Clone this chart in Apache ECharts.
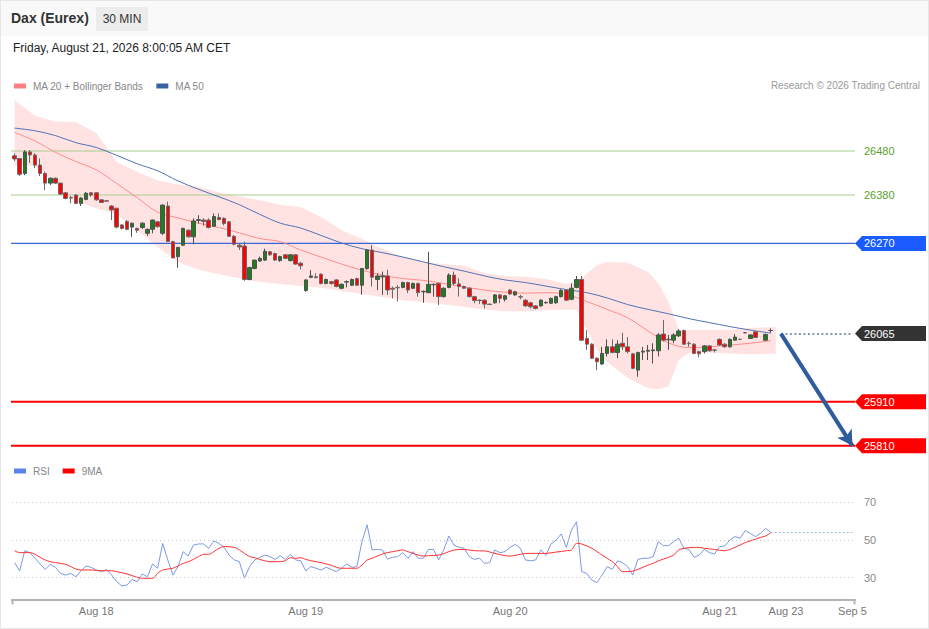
<!DOCTYPE html>
<html><head><meta charset="utf-8">
<script src="https://cdn.jsdelivr.net/npm/echarts@6/dist/echarts.min.js"></script>
<style>
html,body{margin:0;padding:0;background:#fff;}
#wrap{position:relative;width:929px;height:629px;overflow:hidden;font-family:'Liberation Sans',Arial,sans-serif;}
#hdr{position:absolute;left:0;top:0;width:929px;height:36px;background:#f9f9f9;}
#chart{position:absolute;left:0;top:0;width:929px;height:629px;}
.t{position:absolute;white-space:nowrap;}
#frame{position:absolute;left:0;top:0;width:929px;height:629px;box-sizing:border-box;border:1px solid #e6e6e6;pointer-events:none;}
</style></head>
<body><div id="wrap">
<div id="hdr"></div>
<div id="chart"></div>
<div class="t" style="left:11px;top:9px;font-size:14px;font-weight:bold;color:#333;line-height:18px;">Dax (Eurex)</div>
<div class="t" style="left:96px;top:7px;width:52px;height:24px;background:#ececec;font-size:12px;color:#333;line-height:24px;text-align:center;">30 MIN</div>
<div class="t" style="left:13px;top:41px;font-size:12px;color:#222;line-height:14px;">Friday, August 21, 2026 8:00:05 AM CET</div>
<div class="t" style="right:9px;top:80px;font-size:10px;color:#999;line-height:12px;">Research © 2026 Trading Central</div>
<div id="frame"></div>
</div>
<script>
// ---------- DATA ----------
const opens = [26469,26463,26429,26478,26471,26448,26429,26407,26418,26407,
 26385,26374,26380,26361,26370,26385,26385,26369,26367,26355,
 26350,26312,26320,26307,26304,26306,26293,26302,26319,26293,
 26355,26274,26240,26266,26300,26285,26322,26323,26323,26309,
 26329,26327,26319,26286,26266,26264,26188,26213,26230,26232,
 26251,26247,26231,26244,26231,26244,26225,26163,26193,26194,
 26200,26179,26183,26187,26168,26182,26175,26190,26175,26213,
 26255,26188,26194,26196,26168,26170,26170,26181,26168,26179,
 26160,26158,26176,26179,26149,26170,26198,26178,26172,26168,
 26149,26141,26141,26132,26135,26153,26143,26164,26153,26149,
 26141,26135,26128,26128,26135,26134,26135,26149,26164,26143,
 26170,26188,26054,26041,26009,25996,26020,26035,26022,26043,
 26035,26019,25982,26023,26025,26026,26026,26064,26051,26050,
 26060,26072,26043,26041,26024,26024,26037,26028,26052,26041,
 26035,26050,26052,26067,26054,26069,null,26050,26072];
const closes = [26462,26427,26478,26471,26448,26429,26407,26418,26407,26382,
 26372,26373,26361,26373,26384,26380,26369,26363,26366,26346,
 26307,26304,26302,26316,26300,26316,26302,26323,26308,26357,
 26274,26237,26261,26304,26285,26321,26324,26320,26306,26331,
 26324,26315,26286,26268,26262,26188,26215,26232,26236,26252,
 26244,26232,26240,26236,26244,26223,26219,26187,26196,26192,
 26179,26188,26179,26172,26177,26183,26188,26175,26213,26255,
 26193,26196,26196,26164,26166,26169,26181,26164,26179,26158,
 26161,26177,26177,26149,26168,26198,26179,26172,26168,26149,
 26140,26140,26132,26131,26153,26145,26151,26155,26160,26148,
 26128,26126,26122,26141,26136,26145,26149,26163,26141,26168,
 26188,26050,26041,26009,26001,26020,26035,26022,26041,26035,
 26024,25986,26022,26025,26027,26028,26062,26050,26052,26062,
 26071,26041,26042,26020,26019,26037,26026,26027,26039,26035,
 26052,26057,26052,26067,26062,26056,null,26063,26072];
const highs = [26475,26464,26482,26482,26475,26463,26433,26420,26420,26408,
 26387,26378,26382,26375,26387,26387,26387,26370,26368,26357,
 26350,26314,26323,26317,26306,26318,26304,26324,26321,26359,
 26365,26276,26262,26306,26302,26327,26334,26327,26327,26338,
 26338,26329,26321,26289,26270,26274,26217,26233,26240,26258,
 26253,26249,26242,26246,26246,26246,26228,26188,26209,26202,
 26202,26190,26185,26189,26179,26186,26190,26192,26214,26257,
 26266,26202,26206,26210,26172,26175,26183,26183,26181,26181,
 26163,26251,26179,26181,26170,26202,26206,26191,26174,26170,
 26151,26143,26143,26133,26155,26155,26153,26166,26162,26153,
 26143,26137,26130,26143,26138,26147,26151,26166,26166,26179,
 26196,26196,26073,26043,26011,26035,26052,26052,26050,26067,
 26057,26021,26024,26035,26039,26043,26066,26096,26062,26066,
 26075,26074,26047,26043,26026,26039,26039,26030,26054,26043,
 26054,26064,26053,26068,26064,26070,null,26065,26077];
const lows = [26457,26423,26425,26453,26441,26423,26391,26403,26405,26380,
 26370,26361,26359,26355,26368,26376,26367,26362,26365,26323,
 26304,26302,26300,26285,26294,26303,26287,26293,26306,26289,
 26274,26236,26215,26264,26283,26268,26315,26310,26304,26308,
 26323,26311,26285,26266,26255,26185,26186,26211,26228,26230,
 26242,26230,26228,26234,26229,26221,26211,26160,26191,26191,
 26177,26177,26176,26170,26166,26170,26173,26173,26153,26210,
 26172,26164,26153,26153,26145,26138,26168,26157,26166,26149,
 26135,26157,26149,26130,26147,26168,26175,26149,26167,26147,
 26134,26132,26122,26130,26133,26134,26138,26153,26151,26143,
 26126,26122,26120,26126,26133,26132,26133,26147,26139,26141,
 26168,26048,26028,26007,25982,25994,26013,26020,26009,26028,
 26020,25984,25967,26005,26005,25997,26013,26047,26028,26043,
 26057,26039,26035,26018,26011,26020,26024,26022,26037,26033,
 26033,26050,26051,26066,26053,26055,null,26049,26067];

// moving averages (sampled every 4th candle)
const maIdx = [0,4,8,12,16,20,24,28,32,36,40,44,48,52,56,60,64,68,72,76,80,84,88,92,96,100,104,108,112,116,120,124,128,132,136,140,144,148];
const ma20 = [26522,26503,26477,26456,26437,26406,26374,26341,26328,26316,26306,26294,26281,26274,26255,26239,26223,26209,26198,26190,26186,26179,26171,26164,26159,26157,26158,26154,26138,26120,26101,26071,26044,26033,26035,26039,26043,26049];
const ma50 = [26532,26526,26515,26499,26488,26470,26451,26435,26412,26393,26376,26358,26336,26316,26305,26288,26271,26258,26249,26239,26228,26217,26207,26196,26187,26181,26173,26165,26158,26146,26131,26120,26110,26099,26090,26081,26073,26066];

// Bollinger bands
const bbIdx = [0,4,8,12,16,20,24,28,32,36,40,44,48,52,56,60,64,68,72,76,80,84,88,92,96,100,104,108,110,112,114,116,120,124,126,128,130,132,136,140,144,149];
const bbUpper = [26596,26560,26547,26546,26521,26455,26433,26413,26404,26399,26386,26377,26368,26358,26353,26330,26300,26280,26258,26239,26228,26223,26219,26203,26196,26194,26189,26178,26182,26201,26221,26228,26226,26205,26180,26137,26073,26073,26073,26074,26078,26080];
const bbLower = [26447,26446,26406,26366,26350,26335,26300,26262,26228,26210,26200,26191,26182,26178,26173,26169,26162,26155,26148,26141,26137,26131,26126,26120,26116,26115,26118,26120,26119,26073,26028,26001,25964,25941,25939,25944,26005,26021,26022,26020,26018,26019];

// RSI
const rsi = [38.0,33.6,44.3,43.3,40.3,37.3,34.4,37.1,35.5,32.3,
 31.4,32.3,30.5,33.6,36.2,35.5,34.1,33.2,34.4,31.4,
 27.9,25.6,26.1,29.1,27.9,32.0,30.5,37.3,35.0,48.2,
 39.4,31.4,35.9,43.8,41.5,47.3,47.9,47.9,45.6,49.5,
 48.2,46.1,42.0,39.4,38.5,29.7,35.9,39.4,40.8,42.0,
 41.2,39.7,41.7,39.7,42.4,39.4,39.0,33.6,35.9,35.0,
 34.1,35.5,34.4,33.2,35.0,37.3,35.5,35.9,49.1,58.0,
 44.7,45.0,44.7,39.9,40.8,41.2,43.3,40.3,43.8,40.3,
 40.3,45.0,45.0,39.4,44.7,52.1,47.3,46.1,45.6,41.2,
 39.7,40.3,37.6,38.0,44.7,43.3,43.8,46.1,47.7,45.6,
 39.4,39.0,39.4,44.7,42.0,47.9,50.0,53.2,46.1,55.3,
 59.7,33.2,32.3,28.8,27.4,31.4,35.9,34.4,38.9,38.0,
 35.9,31.4,39.7,40.3,40.3,41.2,49.1,47.0,47.0,49.1,
 50.9,45.6,45.0,40.8,42.0,45.0,43.3,42.6,46.5,46.8,
 50.0,51.8,50.9,55.0,53.5,51.8,53.5,56.2,54.1];
const rsiMaIdx = [0,1,3,4,5,6,7,8,10,11,12,13,15,17,19,20,22,24,25,27,28,29,31,32,33,34,35,36,37,38,39,40,41,43,44,45,46,47,48,50,52,53,54,55,56,57,58,60,61,62,63,64,66,67,68,69,70,71,72,73,74,75,76,77,78,79,80,81,83,85,86,88,90,92,94,96,97,99,100,102,104,106,108,109,110,111,113,115,117,118,119,121,122,124,125,126,127,128,129,130,131,133,134,135,137,139,140,141,142,143,144,145,146,147,148];
const rsiMa = [44.3,43.3,43.3,42.4,40.8,39.4,38.5,38.0,37.1,35.9,34.6,34.1,34.1,33.7,33.7,33.2,32.0,30.2,29.7,29.7,32.3,34.1,35.0,36.2,37.6,38.5,39.7,41.2,42.4,42.4,43.8,45.6,46.5,46.1,44.7,42.9,41.2,40.6,39.7,38.5,38.5,39.0,40.6,40.3,40.6,39.7,39.0,38.0,37.3,36.6,35.5,35.0,35.0,35.0,36.7,39.4,40.3,41.5,42.6,43.3,43.8,44.3,44.7,43.8,42.9,42.0,41.5,41.7,42.0,43.8,44.7,45.0,44.3,44.2,42.9,41.7,41.5,42.4,42.9,42.9,42.9,43.6,44.3,44.7,48.2,47.9,45.6,42.0,38.5,35.9,33.2,33.5,34.4,36.7,37.6,38.9,39.9,40.8,42.0,44.7,45.6,46.1,46.1,45.6,45.0,44.3,45.0,46.1,47.3,48.6,49.5,50.4,51.4,52.1,53.9];
const rsiLevels = [70, 50, 30];

// price levels
const resistanceLevels = [26480, 26380];
const pivotLevel = 26270;
const lastPrice = 26065;
const supportLevels = [25910, 25810];
const targetLevel = 25810;

// x axis
const slotCount = 165;
const tickIdx = [16, 57, 97, 138, 151, 164];
const tickText = ['Aug 18', 'Aug 19', 'Aug 20', 'Aug 21', 'Aug 23', 'Sep 5'];
const lastIdx = 148, projStartIdx = 150, projEndIdx = 164;

// ---------- CHART ----------
const FONT = "'Liberation Sans', Arial, sans-serif";
const cats = Array.from({length: slotCount}, (_, i) => String(i));
const tickMap = {};
tickIdx.forEach((k, i) => { tickMap[String(k)] = tickText[i]; });
const candleData = opens.map((o, i) => o == null ? ['-', '-', '-', '-'] : [o, closes[i], lows[i], highs[i]]);
const pairs = (idx, vals) => idx.map((k, i) => [k, vals[i]]);

const chart = echarts.init(document.getElementById('chart'), null, {renderer: 'svg'});
const GL = 12, GR = 74;
const option = {
  animation: false,
  textStyle: {fontFamily: FONT},
  legend: [
    {left: 14, top: 81, padding: 0, icon: 'rect', itemWidth: 12, itemHeight: 5, itemGap: 13, selectedMode: false,
     textStyle: {color: '#888', fontSize: 10, padding: [0, 0, 0, 2]},
     data: [{name: 'MA 20 + Bollinger Bands', itemStyle: {color: '#ff8080'}}, {name: 'MA 50', itemStyle: {color: '#3a62a0'}}]},
    {left: 14, top: 466, padding: 0, icon: 'rect', itemWidth: 12, itemHeight: 5, itemGap: 13, selectedMode: false,
     textStyle: {color: '#888', fontSize: 10, padding: [0, 0, 0, 2]},
     data: [{name: 'RSI', itemStyle: {color: '#5b82e8'}}, {name: '9MA', itemStyle: {color: '#ff0000'}}]}
  ],
  grid: [
    {left: GL, right: GR, top: 98.2, height: 356.4},
    {left: GL, right: GR, top: 483.45, height: 115.93}
  ],
  xAxis: [
    {type: 'category', gridIndex: 0, data: cats, boundaryGap: true, show: false},
    {type: 'category', gridIndex: 1, data: cats, boundaryGap: true,
     axisLine: {lineStyle: {color: '#b3b3b3', width: 2}}, axisTick: {show: false}, splitLine: {show: false},
     axisLabel: {interval: (i) => tickMap[String(i)] !== undefined, formatter: (v) => tickMap[v] || '',
                 color: '#777', fontSize: 11, margin: 6}}
  ],
  yAxis: [
    {type: 'value', gridIndex: 0, min: 25790, max: 26600, show: false, splitLine: {show: false}},
    {type: 'value', gridIndex: 1, min: 18.5, max: 80, show: false, splitLine: {show: false}}
  ],
  series: [
    {type: 'custom', name: 'band', xAxisIndex: 0, yAxisIndex: 0, z: 1, silent: true,
     data: bbIdx.map((k, i) => [k, bbUpper[i], bbLower[i]]),
     encode: {x: 0, y: [1, 2]},
     renderItem: (params, api) => {
       if (params.dataIndex !== 0) return;
       const up = bbIdx.map((k, i) => api.coord([k, bbUpper[i]]));
       const lo = bbIdx.map((k, i) => api.coord([k, bbLower[i]])).reverse();
       return {type: 'polygon', shape: {points: up.concat(lo)}, style: {fill: '#ffe3e3'}};
     }},
    {type: 'line', name: 'MA 20 + Bollinger Bands', xAxisIndex: 0, yAxisIndex: 0, z: 2,
     data: pairs(maIdx, ma20), symbol: 'none', smooth: 0.35, lineStyle: {color: '#ff8c8c', width: 1}, itemStyle: {color: '#ff8080'}},
    {type: 'line', name: 'MA 50', xAxisIndex: 0, yAxisIndex: 0, z: 2,
     data: pairs(maIdx, ma50), symbol: 'none', smooth: 0.35, lineStyle: {color: '#5073b3', width: 1}, itemStyle: {color: '#3a62a0'}},
    {type: 'candlestick', name: 'DAX', xAxisIndex: 0, yAxisIndex: 0, z: 3, barWidth: 4,
     data: candleData,
     itemStyle: {color: '#1f7d1f', color0: '#ff0000', borderColor: '#505050', borderColor0: '#6a6a6a', borderWidth: 1},
     markLine: {silent: true, symbol: 'none', animation: false, label: {show: false},
       data: [
         [{coord: [projStartIdx, lastPrice], lineStyle: {color: '#8797b8', width: 2, type: [2, 2.5]}},
          {coord: [projEndIdx, lastPrice]}],
         [{coord: [projStartIdx, lastPrice], symbol: 'none', lineStyle: {color: '#2e5c9c', width: 4, type: 'solid'}},
          {coord: [projEndIdx, targetLevel], symbol: 'arrow', symbolSize: [13, 15]}]
       ]}},
    {type: 'line', name: 'RSI', xAxisIndex: 1, yAxisIndex: 1, z: 3,
     data: rsi, symbol: 'none', lineStyle: {color: '#7d99e6', width: 1}, itemStyle: {color: '#5b82e8'},
     markLine: {silent: true, symbol: 'none', animation: false,
       lineStyle: {color: '#c4c4c4', type: [1, 3], width: 1},
       label: {position: 'end', color: '#888', fontSize: 11, distance: 9, formatter: (p) => String(p.value)},
       data: rsiLevels.map(v => ({yAxis: v})).concat([
         [{coord: [lastIdx, rsi[lastIdx]], lineStyle: {color: '#a6b8ee', type: [2, 2], width: 1}, label: {show: false}},
          {coord: [projEndIdx, rsi[lastIdx]], label: {show: false}}]
       ])}},
    {type: 'line', name: '9MA', xAxisIndex: 1, yAxisIndex: 1, z: 4,
     data: pairs(rsiMaIdx, rsiMa), symbol: 'none', smooth: 0.3, lineStyle: {color: '#ff3030', width: 1}, itemStyle: {color: '#ff0000'}}
  ]
};
chart.setOption(option);

// horizontal level lines and right-side price tags (positions from the y scale)
const yP = v => chart.convertToPixel({yAxisIndex: 0}, v);
const xR = 929 - GR;
const g = [];
const levelLines = [
  {v: resistanceLevels[0], c: '#a8d08d', w: 1},
  {v: resistanceLevels[1], c: '#a8d08d', w: 1},
  {v: pivotLevel, c: '#3b66d6', w: 1.3},
  {v: supportLevels[0], c: '#ff0000', w: 2},
  {v: supportLevels[1], c: '#ff0000', w: 2}
];
levelLines.forEach(l => {
  const y = yP(l.v);
  g.push({type: 'line', z: 1.5, silent: true, shape: {x1: GL - 1, y1: y, x2: xR, y2: y}, style: {stroke: l.c, lineWidth: l.w}});
});
const boxTags = [
  {v: pivotLevel, c: '#1a5cff'},
  {v: lastPrice, c: '#333333'},
  {v: supportLevels[0], c: '#ff0000'},
  {v: supportLevels[1], c: '#ff0000'}
];
boxTags.forEach(b => {
  const y = yP(b.v);
  g.push({type: 'polygon', z: 100, shape: {points: [[xR, y], [xR + 7, y - 7.5], [926, y - 7.5], [926, y + 7.5], [xR + 7, y + 7.5]]}, style: {fill: b.c}});
  g.push({type: 'text', z: 101, x: xR + 9, y: y, style: {text: String(b.v), fill: '#fff', fontSize: 11, fontFamily: FONT, verticalAlign: 'middle'}});
});
resistanceLevels.forEach(v => {
  g.push({type: 'text', z: 101, x: xR + 9, y: yP(v), style: {text: String(v), fill: '#5a9f2c', fontSize: 11, fontFamily: FONT, verticalAlign: 'middle'}});
});
const axY = chart.convertToPixel({yAxisIndex: 1}, 18.5);
[GL + 0.5, xR - 0.5].forEach(x => g.push({type: 'line', z: 100, shape: {x1: x, y1: axY, x2: x, y2: axY + 5}, style: {stroke: '#b3b3b3', lineWidth: 2}}));
chart.setOption({graphic: g});
</script>
</body></html>
